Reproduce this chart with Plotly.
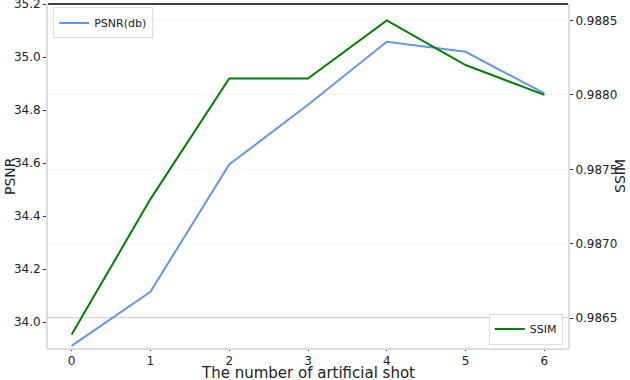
import plotly.graph_objs as go

# количество искусственных кадров
shots = [0, 1, 2, 3, 4, 5, 6]
psnr = [33.91, 34.114, 34.595, 34.82, 35.058, 35.02, 34.863]
ssim = [0.98639, 0.98730, 0.98811, 0.98811, 0.98850, 0.98820, 0.98800]

font = "DejaVu Sans"

fig = go.Figure()
fig.add_trace(go.Scatter(x=shots, y=psnr, name="PSNR(db)", mode="lines",
                         line=dict(color="#6495ed", width=2), legend="legend"))
fig.add_trace(go.Scatter(x=shots, y=ssim, name="SSIM", mode="lines", yaxis="y2",
                         line=dict(color="#008000", width=2), legend="legend2"))

# серая линия на 0.9865 и чёрная рамка сверху
fig.add_shape(type="line", xref="paper", x0=0, x1=1, yref="y2", y0=0.9865, y1=0.9865,
              line=dict(color="#aaaaaa", width=1.2), layer="below")
fig.add_shape(type="line", xref="paper", x0=0, x1=1, yref="paper", y0=1, y1=1,
              line=dict(color="black", width=1.5))

# подписи осей
fig.add_annotation(text="The number of artificial shot", xref="paper", yref="paper",
                   x=0.5, y=-0.042, xanchor="center", yanchor="top", showarrow=False,
                   font=dict(size=15))
fig.add_annotation(text="PSNR", xref="paper", yref="paper", x=-0.073, y=0.5,
                   xanchor="center", yanchor="middle", textangle=-90, showarrow=False,
                   font=dict(size=14))
fig.add_annotation(text="SSIM", xref="paper", yref="paper", x=1.1, y=0.5,
                   xanchor="center", yanchor="middle", textangle=-90, showarrow=False,
                   font=dict(size=14))

fig.update_layout(
    width=630, height=380,
    margin=dict(l=48, r=62, t=4, b=32, autoexpand=False),
    showlegend=True,
    paper_bgcolor="white", plot_bgcolor="white",
    font=dict(family=font, size=12, color="#222"),
    xaxis=dict(range=[-0.3, 6.3], tickvals=shots, showgrid=False, zeroline=False,
               showline=True, linecolor="#dddddd", linewidth=2, automargin=False,
               ticks="outside", ticklen=1, tickcolor="#333"),
    yaxis=dict(range=[33.902, 35.2005], tickvals=[34.0, 34.2, 34.4, 34.6, 34.8, 35.0, 35.2],
               tickformat=".1f", showgrid=False, zeroline=False, automargin=False,
               showline=True, linecolor="#dddddd", linewidth=2, ticklabeloverflow="allow",
               ticks="outside", ticklen=3, tickcolor="#333"),
    yaxis2=dict(range=[0.98630, 0.98861], overlaying="y", side="right", automargin=False,
                tickvals=[0.9865, 0.9870, 0.9875, 0.9880, 0.9885], tickformat=".4f",
                showgrid=True, gridcolor="#f4f4f4", zeroline=False,
                showline=True, linecolor="#dddddd", linewidth=2,
                ticks="outside", ticklen=3, tickcolor="#333"),
    legend=dict(x=0.01, y=0.99, xanchor="left", yanchor="top", bgcolor="white",
                bordercolor="#dddddd", borderwidth=1, font=dict(size=11),
                itemwidth=30),
    legend2=dict(x=0.99, y=0.01, xanchor="right", yanchor="bottom", bgcolor="white",
                 bordercolor="#dddddd", borderwidth=1, font=dict(size=11),
                 itemwidth=30),
)

# убираем отступ body, чтобы график занял всё окно
fig.write_html("out.html", config={"displayModeBar": False},
               post_script="document.body.style.margin='0';")
